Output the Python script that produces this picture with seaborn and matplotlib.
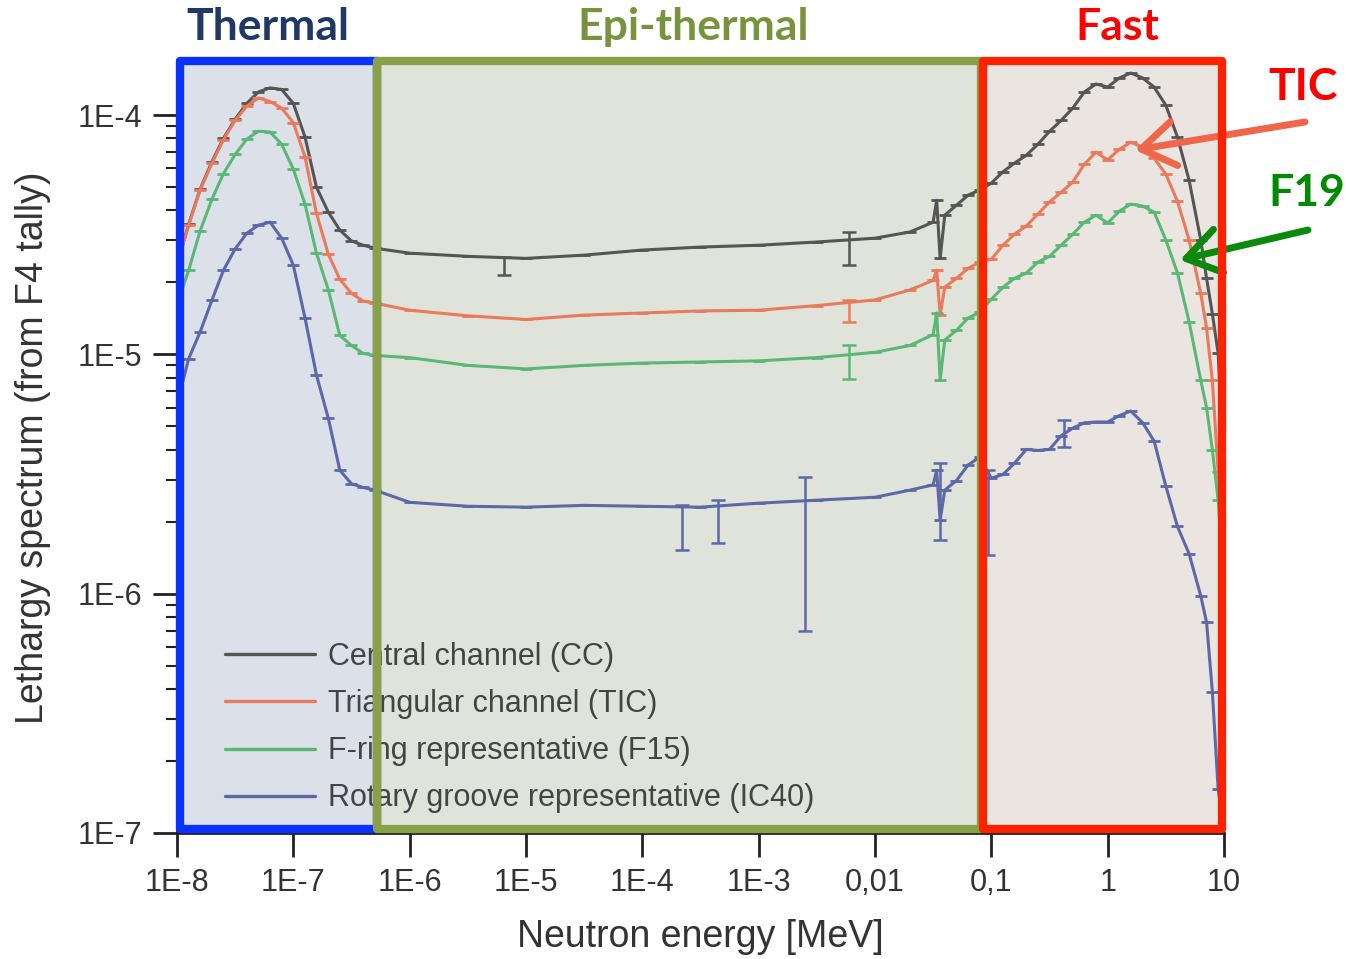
import pandas as pd
import matplotlib
matplotlib.use("Agg")
import matplotlib.pyplot as plt
import seaborn as sns
from matplotlib.patches import Rectangle
from matplotlib.lines import Line2D
from matplotlib.ticker import NullFormatter

# --- DATA --- #

# neutron energy grid [MeV]
energy = [1.00e-8, 1.26e-8, 1.58e-8, 2.00e-8, 2.51e-8, 3.16e-8, 3.98e-8, 5.01e-8, 6.31e-8,
          7.94e-8, 1.00e-7, 1.26e-7, 1.58e-7, 2.00e-7, 2.51e-7, 3.16e-7, 3.98e-7, 5.01e-7,
          1.00e-6, 3.16e-6, 1.00e-5, 3.16e-5, 1.00e-4, 3.16e-4, 1.00e-3, 3.16e-3, 1.00e-2,
          2.00e-2, 3.16e-2, 3.39e-2, 3.63e-2, 3.98e-2, 5.01e-2, 6.31e-2, 7.94e-2,
          0.100, 0.126, 0.158, 0.200, 0.251, 0.316, 0.398, 0.501, 0.631, 0.794, 1.00, 1.26,
          1.58, 2.00, 2.51, 3.16, 3.98, 5.01, 6.31, 7.08, 7.94, 8.91, 10.0]

cc = [2.40e-5, 3.50e-5, 4.90e-5, 6.40e-5, 8.00e-5, 9.60e-5, 1.12e-4, 1.25e-4, 1.30e-4,
      1.28e-4, 1.12e-4, 8.10e-5, 5.00e-5, 3.93e-5, 3.31e-5, 2.98e-5, 2.86e-5, 2.78e-5,
      2.65e-5, 2.57e-5, 2.52e-5, 2.60e-5, 2.73e-5, 2.81e-5, 2.86e-5, 2.95e-5, 3.06e-5,
      3.25e-5, 3.57e-5, 4.41e-5, 2.52e-5, 3.82e-5, 4.20e-5, 4.63e-5, 4.86e-5,
      5.20e-5, 5.80e-5, 6.30e-5, 6.80e-5, 7.55e-5, 8.55e-5, 9.50e-5, 1.07e-4, 1.25e-4,
      1.35e-4, 1.31e-4, 1.43e-4, 1.50e-4, 1.43e-4, 1.31e-4, 1.10e-4, 8.10e-5, 5.35e-5,
      3.01e-5, 2.08e-5, 1.48e-5, 1.01e-5, 3.30e-6]

tic = [2.36e-5, 3.47e-5, 4.86e-5, 6.30e-5, 7.90e-5, 9.50e-5, 1.09e-4, 1.18e-4, 1.14e-4,
       1.07e-4, 9.30e-5, 6.70e-5, 3.89e-5, 2.62e-5, 2.06e-5, 1.80e-5, 1.67e-5, 1.64e-5,
       1.53e-5, 1.45e-5, 1.40e-5, 1.46e-5, 1.49e-5, 1.52e-5, 1.53e-5, 1.60e-5, 1.69e-5,
       1.86e-5, 2.04e-5, 2.25e-5, 1.46e-5, 1.91e-5, 2.08e-5, 2.29e-5, 2.43e-5,
       2.50e-5, 2.86e-5, 3.18e-5, 3.44e-5, 3.86e-5, 4.33e-5, 4.76e-5, 5.25e-5, 6.24e-5,
       7.00e-5, 6.50e-5, 7.20e-5, 7.70e-5, 7.35e-5, 6.60e-5, 5.67e-5, 4.37e-5, 3.01e-5,
       1.80e-5, 1.29e-5, 7.80e-6, 3.22e-6, 1.60e-6]

f15 = [1.61e-5, 2.25e-5, 3.28e-5, 4.46e-5, 5.70e-5, 6.85e-5, 7.94e-5, 8.57e-5, 8.50e-5,
       7.56e-5, 5.95e-5, 4.25e-5, 2.65e-5, 1.86e-5, 1.20e-5, 1.09e-5, 1.01e-5, 9.90e-6,
       9.70e-6, 9.00e-6, 8.70e-6, 9.00e-6, 9.20e-6, 9.30e-6, 9.40e-6, 9.70e-6, 1.02e-5,
       1.09e-5, 1.21e-5, 1.49e-5, 7.80e-6, 1.15e-5, 1.26e-5, 1.42e-5, 1.50e-5,
       1.70e-5, 1.91e-5, 2.08e-5, 2.19e-5, 2.43e-5, 2.57e-5, 2.86e-5, 3.18e-5, 3.57e-5,
       3.82e-5, 3.54e-5, 3.97e-5, 4.25e-5, 4.17e-5, 3.93e-5, 3.01e-5, 2.19e-5, 1.37e-5,
       7.80e-6, 6.00e-6, 4.00e-6, 2.46e-6, 1.14e-6]

ic40 = [6.20e-6, 9.60e-6, 1.24e-5, 1.69e-5, 2.25e-5, 2.76e-5, 3.21e-5, 3.47e-5, 3.57e-5,
        3.06e-5, 2.36e-5, 1.42e-5, 8.20e-6, 5.40e-6, 3.28e-6, 2.88e-6, 2.78e-6, 2.71e-6,
        2.41e-6, 2.32e-6, 2.30e-6, 2.34e-6, 2.32e-6, 2.30e-6, 2.39e-6, 2.46e-6, 2.53e-6,
        2.71e-6, 2.85e-6, 3.28e-6, 2.03e-6, 2.71e-6, 2.97e-6, 3.45e-6, 3.72e-6,
        3.04e-6, 3.15e-6, 3.51e-6, 4.01e-6, 3.97e-6, 4.01e-6, 4.57e-6, 4.92e-6, 5.18e-6,
        5.22e-6, 5.22e-6, 5.55e-6, 5.80e-6, 5.18e-6, 4.34e-6, 2.82e-6, 1.91e-6, 1.47e-6,
        9.80e-7, 7.60e-7, 3.90e-7, 1.52e-7, 1.03e-7]

series_names = ["Central channel (CC)", "Triangular channel (TIC)",
                "F-ring representative (F15)", "Rotary groove representative (IC40)"]
series_colors = ["#555555", "#e97a5b", "#5bb874", "#5c68a8"]

# a few large error bars visible on the curves
err_series = [0, 0, 1, 2, 3, 3, 3, 3, 3, 3]
err_energy = [6.5e-6, 6.0e-3, 6.0e-3, 6.0e-3, 2.19e-4, 4.47e-4, 2.51e-3, 3.63e-2, 9.3e-2, 0.42]
err_value = [2.50e-5, 2.95e-5, 1.60e-5, 9.70e-6, 2.32e-6, 2.30e-6, 2.46e-6, 2.03e-6, 3.00e-6, 4.65e-6]
err_low = [2.14e-5, 2.36e-5, 1.37e-5, 7.90e-6, 1.52e-6, 1.63e-6, 7.00e-7, 1.67e-6, 1.45e-6, 4.10e-6]
err_high = [2.55e-5, 3.24e-5, 1.69e-5, 1.09e-5, 2.34e-6, 2.46e-6, 3.07e-6, 3.51e-6, 3.28e-6, 5.30e-6]

# energy regions [MeV] and spectrum span of the boxes
region_names = ["Thermal", "Epi-thermal", "Fast"]
region_lo = [1.06e-8, 5.25e-7, 8.5e-2]
region_hi = [5.25e-7, 8.2e-2, 9.66]
box_bottom, box_top = 1.04e-7, 1.68e-4

xtick_vals = [1e-8, 1e-7, 1e-6, 1e-5, 1e-4, 1e-3, 1e-2, 1e-1, 1, 10]
xtick_labels = ["1E-8", "1E-7", "1E-6", "1E-5", "1E-4", "1E-3", "0,01", "0,1", "1", "10"]
ytick_vals = [1e-7, 1e-6, 1e-5, 1e-4]
ytick_labels = ["1E-7", "1E-6", "1E-5", "1E-4"]

# --- PLOT --- #

sns.set_style("ticks")
plt.rcParams["font.family"] = ["Liberation Sans", "DejaVu Sans"]

df = pd.DataFrame({
    "energy": energy * 4,
    "flux": cc + tic + f15 + ic40,
    "series": [n for n in series_names for _ in energy],
})

fig = plt.figure(figsize=(13.46, 9.59), dpi=100)
ax = fig.add_axes([177 / 1346, 126 / 959, 1047 / 1346, 773 / 959])
ax.set_xscale("log")
ax.set_yscale("log")

# region boxes: light fill below the curves, thick frame on top
box_edge = ["#0a32ff", "#88a048", "#ff2200"]
box_fill = ["#dce0e9", "#e0e3da", "#eae5e1"]
for lo, hi, ec, fc in zip(region_lo, region_hi, box_edge, box_fill):
    ax.add_patch(Rectangle((lo, box_bottom), hi - lo, box_top - box_bottom,
                           facecolor=fc, edgecolor="none", zorder=0.5))
    ax.add_patch(Rectangle((lo, box_bottom), hi - lo, box_top - box_bottom,
                           facecolor="none", edgecolor=ec, lw=6, joinstyle="round",
                           zorder=6, clip_on=False))

sns.lineplot(data=df, x="energy", y="flux", hue="series", hue_order=series_names,
             palette=series_colors, lw=2.2, marker="_", markersize=9, mew=2,
             legend=False, ax=ax, zorder=3)
# error caps on every bin in the line colour
for line in ax.lines:
    line.set_markeredgecolor(line.get_color())

for s, e, v, lo, hi in zip(err_series, err_energy, err_value, err_low, err_high):
    ax.errorbar([e], [v], yerr=[[v - lo], [hi - v]], fmt="none",
                ecolor=series_colors[s], elinewidth=1.8, capsize=5, capthick=1.8, zorder=3)

ax.set_xlim(1e-8, 10)
ax.set_ylim(1e-7, 1.70e-4)
ax.set_xticks(xtick_vals, xtick_labels)
ax.set_yticks(ytick_vals, ytick_labels)
ax.xaxis.set_minor_formatter(NullFormatter())
ax.yaxis.set_minor_formatter(NullFormatter())
ax.tick_params(which="major", length=17, width=2, labelsize=22, colors="#222222",
               labelcolor="#333333", pad=8)
ax.tick_params(which="minor", length=8, width=1.5, colors="#222222")
for side in ["top", "right"]:
    ax.spines[side].set_visible(False)
for side in ["left", "bottom"]:
    ax.spines[side].set_linewidth(2)
    ax.spines[side].set_color("#222222")

ax.set_xlabel("Neutron energy [MeV]", fontsize=27, color="#333333", va="center")
ax.xaxis.set_label_coords(0.4995, -0.1345)
ax.set_ylabel("Lethargy spectrum (from F4 tally)", fontsize=27, color="#333333", va="center")
ax.yaxis.set_label_coords(-0.1375, 0.498)

handles = [Line2D([], [], color=c, lw=2.4) for c in series_colors]
leg = ax.legend(handles, series_names, loc="upper left", bbox_to_anchor=(0.046, 0.247),
                frameon=False, fontsize=22, handlelength=2.95, handletextpad=0.4,
                labelspacing=0.56, borderpad=0, borderaxespad=0)
for t in leg.get_texts():
    t.set_color("#444444")
leg.set_zorder(4)

# region titles and curve call-outs
title_font = ["Lato", "DejaVu Sans"]
title_colors = ["#1f3864", "#77933c", "#ff0000"]
title_x = [268, 693, 1117]
for name, tx, tc in zip(region_names, title_x, title_colors):
    fig.text(tx / 1346, 1 - 27 / 959, name, ha="center", va="center", fontsize=32,
             fontweight="bold", color=tc, family=title_font)

fig.text(1303 / 1346, 1 - 87 / 959, "TIC", ha="center", va="center", fontsize=32,
         fontweight="bold", color="#ff0000", family=title_font)
fig.text(1307 / 1346, 1 - 193 / 959, "F19", ha="center", va="center", fontsize=32,
         fontweight="bold", color="#008a00", family=title_font)

arrow_style = "->,head_length=0.6,head_width=0.4"
ax.annotate("", xy=(1135, 959 - 150), xycoords="figure pixels",
            xytext=(1305, 959 - 122), textcoords="figure pixels", annotation_clip=False,
            arrowprops=dict(arrowstyle=arrow_style, lw=5, color="#f0664b",
                            mutation_scale=40, shrinkA=0, shrinkB=0))
ax.annotate("", xy=(1180, 959 - 260), xycoords="figure pixels",
            xytext=(1308, 959 - 230), textcoords="figure pixels", annotation_clip=False,
            arrowprops=dict(arrowstyle=arrow_style, lw=5, color="#0a8a0a",
                            mutation_scale=40, shrinkA=0, shrinkB=0))

fig.savefig("out.png", dpi=100)
